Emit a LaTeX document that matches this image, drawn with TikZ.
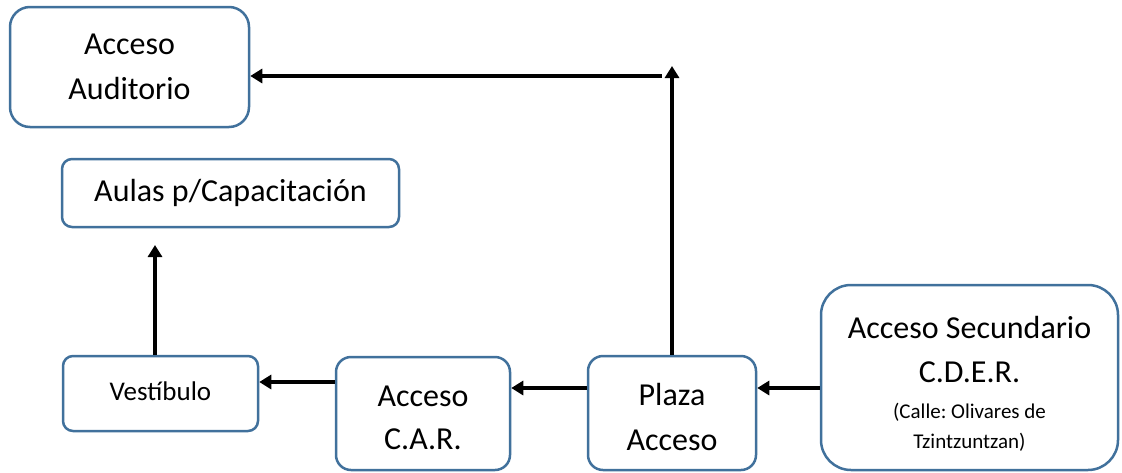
\documentclass[tikz,border=0pt]{standalone}
\usepackage{fontspec}
\setmainfont{Carlito}
\usetikzlibrary{arrows.meta}
\definecolor{boxblue}{HTML}{41719C}
\begin{document}
\frenchspacing
\begin{tikzpicture}[x=1pt,y=-1pt,
  box/.style={draw=boxblue,line width=2.5pt,fill=white,align=center,inner sep=0pt,
    font=\fontsize{32}{45}\selectfont\frenchspacing},
  conn/.style={line width=3.5pt,-{Triangle[length=12pt,width=14pt]}}]
\useasboundingbox (0,0) rectangle (1122,472);
\node[box,rounded corners=20pt,minimum width=239pt,minimum height=120pt] (aud) at (129.5,67) {Acceso\\Auditorio};
\node[box,rounded corners=10pt,minimum width=337pt,minimum height=68pt] (aulas) at (230.5,193) {Aulas p/Capacitación};
\node[box,rounded corners=10pt,minimum width=195pt,minimum height=75pt,font=\fontsize{27}{30}\selectfont] (vest) at (160.5,393.5) {Vestíbulo\rule[-4pt]{0pt}{0pt}};
\node[box,rounded corners=15pt,minimum width=174pt,minimum height=113pt,font=\fontsize{32}{43}\selectfont] (car) at (423,413.5) {\rule{0pt}{30pt}Acceso\\C.A.R.};
\node[box,rounded corners=15pt,minimum width=168pt,minimum height=114pt] (plaza) at (672,413) {\rule{0pt}{30pt}Plaza\\Acceso};
\node[box,rounded corners=30pt,minimum width=297pt,minimum height=185pt,font=\fontsize{32}{44}\selectfont\frenchspacing] (sec) at (969.5,377.5)
  {\rule{0pt}{34pt}Acceso Secundario\\C.D.E.R.\\[-8pt]{\fontsize{21}{44}\selectfont (Calle: Olivares de}\\[-14pt]{\fontsize{21}{44}\selectfont Tzintzuntzan)}};
\coordinate (vtip) at (155,245);
\coordinate (ptip) at (673,66);
\coordinate (hstart) at (662,76);
\draw[conn] (sec.west |- 0,388) -- (plaza.east |- 0,388);
\draw[conn] (plaza.west |- 0,388) -- (car.east |- 0,388);
\draw[conn] (car.west |- 0,382) -- (vest.east |- 0,382);
\draw[conn] (vest.north -| vtip) -- (vtip);
\draw[conn] (plaza.north) -- (plaza.north |- ptip);
\draw[conn] (hstart) -- (aud.east |- hstart);
\end{tikzpicture}
\end{document}
